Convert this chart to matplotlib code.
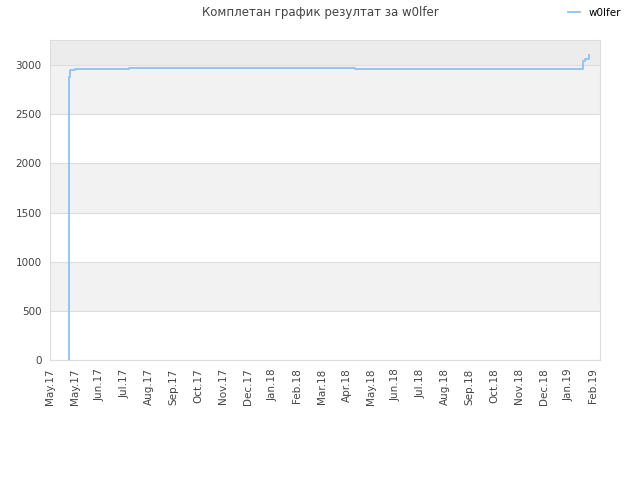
"""Complete score history chart for w0lfer."""

import matplotlib

matplotlib.use("Agg")
import matplotlib.pyplot as plt

# x positions are in tick units (one unit per labelled tick)
tick_labels = [
    "May.17", "May.17", "Jun.17", "Jul.17", "Aug.17", "Sep.17", "Oct.17",
    "Nov.17", "Dec.17", "Jan.18", "Feb.18", "Mar.18", "Apr.18", "May.18",
    "Jun.18", "Jul.18", "Aug.18", "Sep.18", "Oct.18", "Nov.18", "Dec.18",
    "Jan.19", "Feb.19",
]
days = [0.74, 0.75, 0.79, 0.99, 3.18, 12.34, 21.50, 21.59, 21.67, 21.76, 21.84]
scores = [0, 2880, 2945, 2960, 2970, 2960, 2960, 3045, 3060, 3060, 3100]
y_ticks = [0, 500, 1000, 1500, 2000, 2500, 3000]

text_color = "#444444"
line_color = "#8cc2f4"

fig = plt.figure(figsize=(6.4, 4.8), dpi=100)
ax = fig.add_axes([50 / 640, 120 / 480, 550 / 640, 320 / 480])

ymax = 3255
xmax = 22.28

# alternating background bands
for i, lo in enumerate(y_ticks):
    hi = lo + 500 if lo < 3000 else ymax
    if lo == 3000:
        color = "#ececec"
    elif i % 2 == 1:
        color = "#f2f2f2"
    else:
        color = "white"
    ax.axhspan(lo, hi, color=color, zorder=0, lw=0)
for y in y_ticks:
    ax.axhline(y, color="#dddddd", lw=0.8, zorder=1)

ax.plot(days, scores, drawstyle="steps-post", color=line_color, lw=1.3,
        zorder=3, label="w0lfer")

ax.set_xlim(-0.02, xmax)
ax.set_ylim(0, ymax)
ax.set_xticks(range(len(tick_labels)))
ax.set_xticklabels(tick_labels, rotation=90)
ax.set_yticks(y_ticks)
ax.tick_params(length=0, labelsize=7.5, colors=text_color, pad=6)
for s in ax.spines.values():
    s.set_color("#dddddd")

fig.text(0.5, 0.988, "Комплетан график резултат за w0lfer", ha="center",
         va="top", fontsize=8.5, color=text_color)
fig.legend(loc="upper right", bbox_to_anchor=(0.985, 1.003), frameon=False,
           fontsize=7.5, handlelength=1.2, handletextpad=0.8)

fig.savefig("out.png", dpi=100)
